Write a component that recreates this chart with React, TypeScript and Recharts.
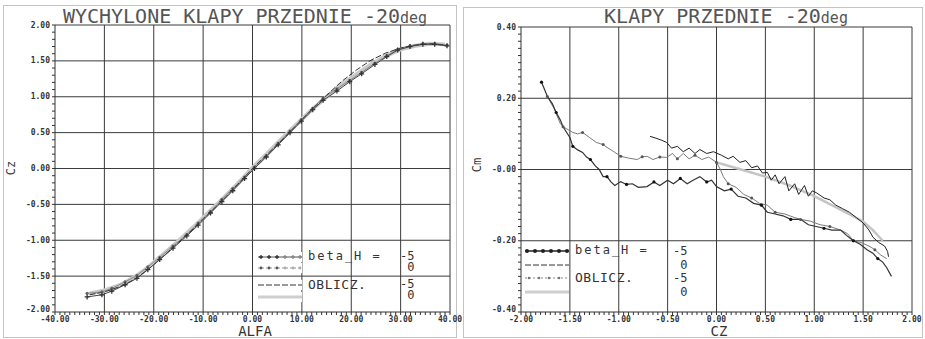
import React from "react";
import { LineChart, Line, XAxis, YAxis, ReferenceLine } from "recharts";

const FONT = '"DejaVu Sans Mono", monospace';

// ---- left panel: Cz(ALFA) ----
const ALFA_TICKS = [-40, -30, -20, -10, 0, 10, 20, 30, 40];
const CZ_TICKS = [-2, -1.5, -1, -0.5, 0, 0.5, 1, 1.5, 2];

const ALFA_MEAS = [-33.5, -30.5, -28.5, -25.8, -23.4, -21.2, -18.8, -16.1, -13.3, -11, -8.5, -6.2, -4, -1.6, 0.4, 2.8, 5.2, 7.6, 9.9, 12.2, 14.3, 17.1, 19.7, 22.1, 24.8, 27.2, 29.4, 31.9, 34.5, 36.9, 39.4];
const CZ_MEAS_M5 = [-1.79, -1.76, -1.71, -1.62, -1.53, -1.41, -1.27, -1.11, -0.94, -0.79, -0.62, -0.46, -0.31, -0.14, 0.0, 0.16, 0.33, 0.5, 0.66, 0.82, 0.95, 1.08, 1.21, 1.32, 1.45, 1.56, 1.65, 1.7, 1.73, 1.73, 1.71];
const CZ_MEAS_0 = [-1.74, -1.72, -1.67, -1.58, -1.49, -1.37, -1.24, -1.08, -0.92, -0.76, -0.6, -0.43, -0.28, -0.12, 0.02, 0.18, 0.35, 0.52, 0.68, 0.84, 0.98, 1.11, 1.23, 1.34, 1.47, 1.57, 1.66, 1.71, 1.74, 1.74, 1.72];

const ALFA_CALC = [-33, -30, -27, -24, -21, -18, -15, -12, -9, -6, -3, 0, 3, 6, 9, 12, 15, 18, 21, 24, 27, 30, 33, 36, 39];
const CZ_CALC_M5 = [-1.76, -1.72, -1.65, -1.55, -1.4, -1.22, -1.03, -0.84, -0.64, -0.44, -0.22, 0.0, 0.2, 0.4, 0.61, 0.82, 1.02, 1.21, 1.37, 1.51, 1.61, 1.68, 1.72, 1.74, 1.72];
const CZ_CALC_0 = [-1.74, -1.7, -1.63, -1.52, -1.37, -1.19, -1.01, -0.82, -0.62, -0.42, -0.21, 0.01, 0.21, 0.42, 0.62, 0.82, 1.0, 1.17, 1.31, 1.45, 1.57, 1.66, 1.71, 1.74, 1.73];

// ---- right panel: Cm(CZ) ----
const CZR_TICKS = [-2, -1.5, -1, -0.5, 0, 0.5, 1, 1.5, 2];
const CM_TICKS = [-0.4, -0.2, 0, 0.2, 0.4];

const CZ_R1 = [-1.79, -1.76, -1.73, -1.68, -1.64, -1.6, -1.57, -1.5, -1.47, -1.42, -1.37, -1.33, -1.29, -1.24, -1.2, -1.16, -1.12, -1.08, -1.04, -0.98, -0.92, -0.86, -0.8, -0.71, -0.64, -0.58, -0.5, -0.44, -0.37, -0.3, -0.24, -0.17, -0.1, -0.05, 0.0, 0.08, 0.15, 0.22, 0.3, 0.38, 0.46, 0.52, 0.6, 0.68, 0.76, 0.86, 0.94, 1.02, 1.1, 1.18, 1.27, 1.33, 1.4, 1.47, 1.54, 1.6, 1.65, 1.7, 1.74, 1.79];
const CM_R1 = [0.245, 0.225, 0.205, 0.185, 0.16, 0.14, 0.12, 0.09, 0.065, 0.055, 0.048, 0.035, 0.028, 0.01, 0.0, -0.02, -0.02, -0.035, -0.045, -0.034, -0.042, -0.04, -0.05, -0.048, -0.035, -0.045, -0.03, -0.04, -0.025, -0.04, -0.03, -0.02, -0.035, -0.03, -0.048, -0.06, -0.055, -0.075, -0.08, -0.095, -0.1, -0.12, -0.125, -0.13, -0.14, -0.14, -0.155, -0.16, -0.165, -0.17, -0.17, -0.185, -0.2, -0.21, -0.225, -0.235, -0.25, -0.26, -0.275, -0.3];

const CZ_R2 = [-0.68, -0.62, -0.56, -0.51, -0.46, -0.4, -0.34, -0.28, -0.22, -0.17, -0.1, -0.03, 0.05, 0.12, 0.17, 0.24, 0.3, 0.36, 0.42, 0.47, 0.52, 0.56, 0.6, 0.64, 0.7, 0.74, 0.8, 0.84, 0.9, 0.94, 0.98, 1.02, 1.1, 1.16, 1.22, 1.29, 1.36, 1.43, 1.5, 1.56, 1.6, 1.66, 1.72, 1.75, 1.76];
const CM_R2 = [0.093, 0.088, 0.082, 0.076, 0.06, 0.065, 0.05, 0.06, 0.045, 0.056, 0.045, 0.05, 0.04, 0.03, 0.037, 0.02, 0.025, 0.005, 0.01, -0.01, -0.008, -0.03, -0.015, -0.04, -0.02, -0.06, -0.04, -0.07, -0.045, -0.075, -0.06, -0.065, -0.08, -0.085, -0.1, -0.11, -0.12, -0.135, -0.15, -0.17, -0.19, -0.205, -0.215, -0.23, -0.245];

const CZ_R3 = [-1.73, -1.66, -1.6, -1.57, -1.47, -1.42, -1.37, -1.3, -1.23, -1.16, -1.12, -1.05, -0.98, -0.9, -0.81, -0.76, -0.71, -0.65, -0.58, -0.51, -0.45, -0.4, -0.34, -0.28, -0.22, -0.15, -0.08, 0.0, 0.04, 0.07, 0.12, 0.2, 0.28, 0.36, 0.44, 0.52, 0.6, 0.7, 0.8, 0.86, 0.96, 1.06, 1.16, 1.27, 1.34, 1.4, 1.48, 1.56, 1.62, 1.68, 1.74];
const CM_R3 = [0.205, 0.17, 0.13, 0.12, 0.104, 0.1, 0.104, 0.09, 0.076, 0.07, 0.062, 0.05, 0.037, 0.032, 0.028, 0.036, 0.037, 0.028, 0.035, 0.034, 0.045, 0.03, 0.045, 0.03, 0.04, 0.028, 0.035, 0.02, 0.0, -0.02, -0.04, -0.05, -0.07, -0.08, -0.095, -0.1, -0.12, -0.125, -0.135, -0.14, -0.145, -0.155, -0.16, -0.17, -0.18, -0.2, -0.205, -0.215, -0.225, -0.24, -0.25];

const CZ_R4 = [0.0, 0.25, 0.5, 0.75, 1.0, 1.25, 1.5, 1.6, 1.7];
const CM_R4 = [0.02, 0.0, -0.02, -0.045, -0.075, -0.11, -0.146, -0.17, -0.2];

const pts = (xs: number[], ys: number[]) => xs.map((x, i) => ({ x, y: ys[i] }));

const steps = (from: number, to: number, step: number) => {
  const out: number[] = [];
  const n = Math.round((to - from) / step);
  for (let i = 0; i <= n; i++) out.push(Math.round((from + i * step) * 1000) / 1000);
  return out;
};

const isMajor = (v: number, majors: number[]) => majors.some((m) => Math.abs(m - v) < 1e-6);

const TICK_STYLE = { fontSize: 8, fontWeight: "bold", fill: "#333", fontFamily: FONT };

// only major values get a label; the lowest y label is lifted a little off the x labels
const makeTick = (majors: number[], fmt: (v: number) => string, lift?: number) => (p: any) => {
  const v = p.payload.value;
  if (!isMajor(v, majors)) return <g key={"t" + p.index} />;
  const dy = lift != null && Math.abs(v - lift) < 1e-6 ? -3 : 0;
  return (
    <text
      key={"t" + p.index}
      x={p.x}
      y={p.y + dy}
      textAnchor={p.textAnchor}
      dominantBaseline="central"
      style={TICK_STYLE as any}
    >
      {fmt(v)}
    </text>
  );
};

const plusDot = (color: string) => (p: any) => {
  if (p.cx == null || p.cy == null) return <g key={"p" + p.index} />;
  return (
    <path
      key={"p" + p.index}
      d={`M${p.cx - 2.5},${p.cy}h5M${p.cx},${p.cy - 2.5}v5`}
      stroke={color}
      strokeWidth={1.3}
      fill="none"
    />
  );
};

const roundDot = (color: string, r: number, every: number) => (p: any) => {
  if (p.cx == null || p.cy == null || p.index % every !== 0) return <g key={"c" + p.index} />;
  return <circle key={"c" + p.index} cx={p.cx} cy={p.cy} r={r} fill={color} stroke="none" />;
};

const gridLines = (xs: number[], ys: number[]) => [
  ...xs.map((v) => <ReferenceLine key={"gx" + v} x={v} stroke="#3a3a3a" strokeWidth={1} />),
  ...ys.map((v) => <ReferenceLine key={"gy" + v} y={v} stroke="#3a3a3a" strokeWidth={1} />),
];

const Sample = ({ kind }: { kind: string }) => (
  <svg width={44} height={10} style={{ display: "block", background: "#fff" }}>
    {kind === "plus" && (
      <>
        <line x1={0} y1={5} x2={44} y2={5} stroke="#555" strokeWidth={1} />
        {[3, 11, 19, 27, 35, 42].map((x) => (
          <path key={x} d={`M${x - 2},5h4M${x},3v4`} stroke={x > 25 ? "#888" : "#333"} strokeWidth={1.3} />
        ))}
      </>
    )}
    {kind === "dots" && (
      <>
        <line x1={0} y1={5} x2={44} y2={5} stroke="#999" strokeWidth={1} strokeDasharray="2 2" />
        {[3, 11, 19, 27, 35, 42].map((x) => (
          <circle key={x} cx={x} cy={5} r={1.4} fill={x > 25 ? "#aaa" : "#555"} />
        ))}
      </>
    )}
    {kind === "bigdots" && (
      <>
        <line x1={0} y1={5} x2={44} y2={5} stroke="#222" strokeWidth={1.5} />
        {[2, 10, 18, 26, 34, 42].map((x) => (
          <circle key={x} cx={x} cy={5} r={2} fill="#222" />
        ))}
      </>
    )}
    {kind === "dash" && <line x1={0} y1={5} x2={44} y2={5} stroke="#333" strokeWidth={1} strokeDasharray="6 2" />}
    {kind === "greydots" && (
      <>
        <line x1={0} y1={5} x2={44} y2={5} stroke="#888" strokeWidth={1} strokeDasharray="2 2" />
        {[4, 14, 24, 34].map((x) => (
          <circle key={x} cx={x} cy={5} r={1.3} fill="#777" />
        ))}
      </>
    )}
    {kind === "light" && <line x1={0} y1={5} x2={44} y2={5} stroke="#cfcfcf" strokeWidth={3} />}
  </svg>
);

type Row = { kind: string; label: string };
type Vals = { top: number; text: string };

const LegendBox = ({ left, top, rows, rowH, valX, vals, valLH }: { left: number; top: number; rows: Row[]; rowH: number[]; valX: number; vals: Vals[]; valLH: number }) => (
  <div style={{ position: "absolute", left, top, fontFamily: FONT, color: "#333" }}>
    {rows.map((r, i) => (
      <div key={i} style={{ position: "absolute", left: 0, top: rowH[i] }}>
        <div style={{ position: "absolute", left: 0, top: 1 }}>
          <Sample kind={r.kind} />
        </div>
        {r.label && (
          <div
            style={{
              position: "absolute",
              left: 50,
              top: 0,
              fontSize: r.label.startsWith("beta") ? 12 : 13,
              letterSpacing: r.label.startsWith("beta") ? 2 : 0.5,
              whiteSpace: "pre",
              lineHeight: "11px",
            }}
          >
            {r.label}
          </div>
        )}
      </div>
    ))}
    {vals.map((v, i) => (
      <div
        key={"v" + i}
        style={{ position: "absolute", left: valX, top: v.top, fontSize: 12, lineHeight: valLH + "px", whiteSpace: "pre" }}
      >
        {v.text}
      </div>
    ))}
  </div>
);

const Title = ({ text, center, top }: { text: string; center: number; top: number }) => (
  <div
    style={{
      position: "absolute",
      left: center - 200,
      width: 400,
      top,
      textAlign: "center",
      fontFamily: FONT,
      fontSize: 20,
      color: "#555",
      lineHeight: "20px",
      whiteSpace: "pre",
    }}
  >
    {text}
    <span style={{ fontSize: 15 }}>deg</span>
  </div>
);

const AxisLabel = ({ text, x, y, rotate }: { text: string; x: number; y: number; rotate?: boolean }) => (
  <div
    style={{
      position: "absolute",
      left: x - 30,
      top: y - 7,
      width: 60,
      textAlign: "center",
      fontFamily: FONT,
      fontSize: rotate ? 12 : 14,
      color: "#333",
      lineHeight: "14px",
      transform: rotate ? "rotate(-90deg)" : undefined,
    }}
  >
    {text}
  </div>
);

const LeftPanel = () => {
  const xMinor = steps(-40, 40, 1);
  const yMinor = steps(-2, 2, 0.1);
  return (
    <div style={{ position: "absolute", left: 0, top: 0, width: 468, height: 339 }}>
      <div style={{ position: "absolute", left: 3, top: 5, width: 452, height: 331, border: "1px solid #c4c4c4" }} />
      <div style={{ position: "absolute", left: 0, top: 0 }}>
        <LineChart width={468} height={339} margin={{ top: 25, right: 18, left: 0, bottom: 0 }}>
          <XAxis
            type="number"
            dataKey="x"
            domain={[-40, 40]}
            ticks={xMinor}
            interval={0}
            height={27}
            tickSize={3}
            tickMargin={4}
            stroke="#333"
            tick={makeTick(ALFA_TICKS, (v) => v.toFixed(2))}
            allowDataOverflow
          />
          <YAxis
            type="number"
            domain={[-2, 2]}
            ticks={yMinor}
            interval={0}
            width={55}
            tickSize={3}
            tickMargin={2}
            stroke="#333"
            tick={makeTick(CZ_TICKS, (v) => v.toFixed(2), -2)}
            allowDataOverflow
          />
          {gridLines(ALFA_TICKS.slice(1), CZ_TICKS.slice(1))}
          <Line data={pts(ALFA_CALC, CZ_CALC_0)} dataKey="y" stroke="#c9c9c9" strokeWidth={4} dot={false} isAnimationActive={false} />
          <Line data={pts(ALFA_MEAS, CZ_MEAS_0)} dataKey="y" stroke="#8a8a8a" strokeWidth={1} dot={roundDot("#666", 1.6, 1)} isAnimationActive={false} />
          <Line data={pts(ALFA_CALC, CZ_CALC_M5)} dataKey="y" stroke="#333" strokeWidth={1} strokeDasharray="6 2" dot={false} isAnimationActive={false} />
          <Line data={pts(ALFA_MEAS, CZ_MEAS_M5)} dataKey="y" stroke="#444" strokeWidth={1} dot={plusDot("#333")} isAnimationActive={false} />
        </LineChart>
      </div>
      <Title text="WYCHYLONE KLAPY PRZEDNIE -20" center={245} top={6} />
      <AxisLabel text="Cz" x={11} y={168} rotate />
      <AxisLabel text="ALFA" x={255} y={331} />
      <LegendBox
        left={258}
        top={251}
        rowH={[0, 11, 28, 40]}
        rows={[
          { kind: "plus", label: "beta_H =" },
          { kind: "dots", label: "" },
          { kind: "dash", label: "OBLICZ." },
          { kind: "light", label: "" },
        ]}
        valX={142}
        valLH={11}
        vals={[
          { top: 0, text: "-5\n 0" },
          { top: 28, text: "-5\n 0" },
        ]}
      />
    </div>
  );
};

const RightPanel = () => {
  const xMinor = steps(-2, 2, 0.05);
  const yMinor = steps(-0.4, 0.4, 0.02);
  return (
    <div style={{ position: "absolute", left: 460, top: 0, width: 465, height: 339 }}>
      <div style={{ position: "absolute", left: 3, top: 7, width: 458, height: 329, border: "1px solid #c4c4c4" }} />
      <div style={{ position: "absolute", left: 0, top: 0 }}>
        <LineChart width={465} height={339} margin={{ top: 27, right: 13, left: 0, bottom: 0 }}>
          <XAxis
            type="number"
            dataKey="x"
            domain={[-2, 2]}
            ticks={xMinor}
            interval={0}
            height={27}
            tickSize={3}
            tickMargin={4}
            stroke="#333"
            tick={makeTick(CZR_TICKS, (v) => v.toFixed(2))}
            allowDataOverflow
          />
          <YAxis
            type="number"
            domain={[-0.4, 0.4]}
            ticks={yMinor}
            interval={0}
            width={61}
            tickSize={3}
            tickMargin={2}
            stroke="#333"
            tick={makeTick(CM_TICKS, (v) => (Math.abs(v) < 1e-6 ? "-0.00" : v.toFixed(2)), -0.4)}
            allowDataOverflow
          />
          {gridLines(CZR_TICKS.slice(1), CM_TICKS.slice(1))}
          <Line data={pts(CZ_R4, CM_R4)} dataKey="y" stroke="#c4c4c4" strokeWidth={2.5} dot={false} isAnimationActive={false} />
          <Line data={pts(CZ_R3, CM_R3)} dataKey="y" stroke="#7a7a7a" strokeWidth={1} dot={roundDot("#555", 1.5, 3)} isAnimationActive={false} />
          <Line data={pts(CZ_R2, CM_R2)} dataKey="y" stroke="#222" strokeWidth={1} dot={false} isAnimationActive={false} />
          <Line data={pts(CZ_R1, CM_R1)} dataKey="y" stroke="#333" strokeWidth={1.2} dot={roundDot("#111", 1.6, 4)} isAnimationActive={false} />
        </LineChart>
      </div>
      <Title text="KLAPY PRZEDNIE -20" center={266} top={6} />
      <AxisLabel text="Cm" x={17} y={165} rotate />
      <AxisLabel text="CZ" x={259} y={331} />
      <LegendBox
        left={65}
        top={245}
        rowH={[0, 14, 27, 41]}
        rows={[
          { kind: "bigdots", label: "beta_H =" },
          { kind: "dash", label: "" },
          { kind: "greydots", label: "OBLICZ." },
          { kind: "light", label: "" },
        ]}
        valX={148}
        valLH={13.7}
        vals={[{ top: 0, text: "-5\n 0\n-5\n 0" }]}
      />
    </div>
  );
};

export default function App() {
  return (
    <div style={{ position: "absolute", left: 0, top: 0, width: 925, height: 339, background: "#fff", overflow: "hidden" }}>
      <LeftPanel />
      <RightPanel />
    </div>
  );
}
